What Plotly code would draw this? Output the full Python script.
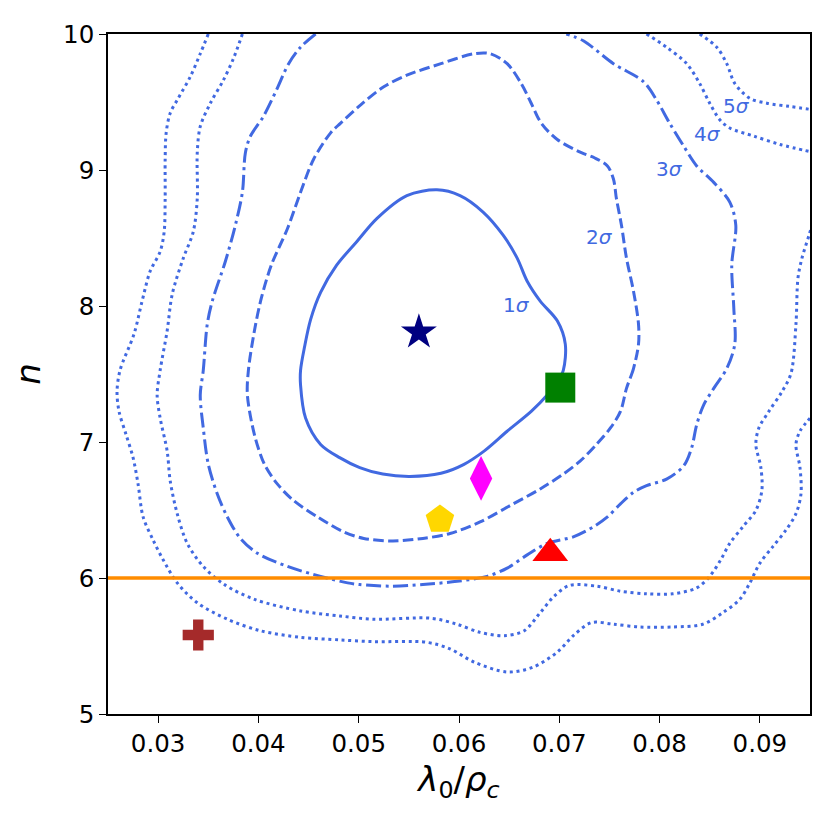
import plotly.graph_objects as go

# ---------------- data ----------------
# contour lines (lambda0/rho_c, n)
c1_x = [0.0442, 0.0446, 0.0452, 0.0462, 0.0478, 0.0498, 0.0518, 0.0548, 0.0578, 0.0601, 0.0624, 0.0644,
        0.0658, 0.0668, 0.0681, 0.0698, 0.0706, 0.0704, 0.0698, 0.0688, 0.0672, 0.0648, 0.0625, 0.0605,
        0.0582, 0.0551, 0.0524, 0.0501, 0.0481, 0.0462, 0.0447, 0.0442, 0.0442]
c1_y = [7.527, 7.700, 7.900, 8.100, 8.300, 8.473, 8.643, 8.812, 8.854, 8.812, 8.691, 8.521,
        8.352, 8.182, 8.036, 7.891, 7.720, 7.527, 7.443, 7.345, 7.225, 7.079, 6.933, 6.836,
        6.770, 6.747, 6.764, 6.812, 6.885, 6.982, 7.176, 7.418, 7.527]

c2_x = [0.0779, 0.0774, 0.0767, 0.0761, 0.0751, 0.0737, 0.0721, 0.0704, 0.0681, 0.0651, 0.0621, 0.0591,
        0.0564, 0.0534, 0.0505, 0.0485, 0.0459, 0.0435, 0.0419, 0.0406, 0.0396, 0.0389, 0.0390, 0.0396,
        0.0403, 0.0413, 0.0429, 0.0442, 0.0455, 0.0472, 0.0482, 0.0502, 0.0525, 0.0548, 0.0582, 0.0615,
        0.0631, 0.0648, 0.0662, 0.0672, 0.0682, 0.0698, 0.0722, 0.0735, 0.0748, 0.0754, 0.0757, 0.0762,
        0.0767, 0.0774, 0.0779, 0.0779]
c2_y = [7.720, 7.540, 7.394, 7.225, 7.103, 6.982, 6.861, 6.764, 6.655, 6.533, 6.412, 6.327,
        6.291, 6.272, 6.291, 6.339, 6.449, 6.570, 6.690, 6.836, 7.055, 7.345, 7.527, 7.818,
        8.061, 8.303, 8.570, 8.836, 9.079, 9.273, 9.345, 9.479, 9.612, 9.697, 9.782, 9.855,
        9.855, 9.782, 9.636, 9.491, 9.345, 9.224, 9.127, 9.090, 9.030, 8.934, 8.788, 8.594,
        8.352, 8.109, 7.867, 7.720]

c3_x = [0.0457, 0.0442, 0.0430, 0.0418, 0.0405, 0.0392, 0.0387, 0.0384, 0.0377, 0.0367, 0.0354, 0.0349,
        0.0345, 0.0342, 0.0345, 0.0350, 0.0359, 0.0369, 0.0382, 0.0399, 0.0429, 0.0462, 0.0489, 0.0501,
        0.0531, 0.0564, 0.0598, 0.0628, 0.0648, 0.0668, 0.0688, 0.0714, 0.0734, 0.0748, 0.0761, 0.0774,
        0.0787, 0.0807, 0.0824, 0.0832, 0.0837, 0.0844, 0.0854, 0.0867, 0.0875, 0.0874, 0.0872, 0.0876,
        0.0870, 0.0854, 0.0837, 0.0824, 0.0810, 0.0797, 0.0784, 0.0754, 0.0724, 0.0707]
c3_y = [10.00, 9.903, 9.780, 9.588, 9.394, 9.249, 9.127, 8.836, 8.594, 8.327, 8.036, 7.867,
        7.527, 7.345, 7.103, 6.836, 6.618, 6.449, 6.291, 6.182, 6.085, 6.012, 5.964, 5.952,
        5.940, 5.952, 5.976, 6.012, 6.073, 6.170, 6.255, 6.303, 6.376, 6.449, 6.545, 6.630,
        6.679, 6.727, 6.824, 6.958, 7.127, 7.273, 7.394, 7.540, 7.720, 7.988, 8.303, 8.594,
        8.764, 8.909, 9.030, 9.176, 9.345, 9.515, 9.649, 9.782, 9.950, 10.00]

c4_x = [0.0384, 0.0375, 0.0365, 0.0352, 0.0342, 0.0339, 0.0339, 0.0335, 0.0325, 0.0314, 0.0309, 0.0302,
        0.0299, 0.0302, 0.0309, 0.0312, 0.0319, 0.0329, 0.0345, 0.0366, 0.0396, 0.0442, 0.0481, 0.0515,
        0.0572, 0.0598, 0.0621, 0.0645, 0.0665, 0.0681, 0.0695, 0.0710, 0.0737, 0.0761, 0.0787, 0.0813,
        0.0837, 0.0850, 0.0861, 0.0870, 0.0883, 0.0896, 0.0902, 0.0901, 0.0896, 0.0899, 0.0909, 0.0922,
        0.0931, 0.0936, 0.0938, 0.0942, 0.0949, 0.0953,
        None,
        0.0787, 0.0807, 0.0827, 0.0840, 0.0850, 0.0860, 0.0870, 0.0894, 0.0920, 0.0953]
c4_y = [10.00, 9.818, 9.660, 9.490, 9.320, 9.127, 8.788, 8.545, 8.350, 8.085, 7.818, 7.527,
        7.345, 7.176, 6.933, 6.715, 6.473, 6.255, 6.085, 5.952, 5.843, 5.758, 5.721, 5.697,
        5.704, 5.660, 5.600, 5.576, 5.612, 5.745, 5.867, 5.945, 5.940, 5.903, 5.884, 5.884,
        5.927, 6.012, 6.134, 6.255, 6.376, 6.497, 6.643, 6.812, 6.982, 7.103, 7.225, 7.370,
        7.503, 7.867, 8.206, 8.352, 8.520, 8.620,
        None,
        10.00, 9.903, 9.782, 9.636, 9.491, 9.370, 9.309, 9.249, 9.188, 9.130]

c5_x = [0.0350, 0.0342, 0.0332, 0.0320, 0.0312, 0.0308, 0.0307, 0.0307, 0.0306, 0.0302, 0.0292, 0.0284,
        0.0276, 0.0262, 0.0259, 0.0261, 0.0268, 0.0275, 0.0280, 0.0285, 0.0295, 0.0305, 0.0319, 0.0339,
        0.0369, 0.0402, 0.0442, 0.0481, 0.0515, 0.0568, 0.0591, 0.0615, 0.0648, 0.0674, 0.0698, 0.0714,
        0.0732, 0.0754, 0.0780, 0.0813, 0.0843, 0.0863, 0.0880, 0.0890, 0.0900, 0.0913, 0.0926, 0.0936,
        0.0941, 0.0940, 0.0936, 0.0940, 0.0953,
        None,
        0.0840, 0.0857, 0.0867, 0.0875, 0.0890, 0.0907, 0.0930, 0.0953]
c5_y = [10.00, 9.855, 9.685, 9.527, 9.418, 9.273, 9.079, 8.788, 8.545, 8.400, 8.255, 8.036,
        7.795, 7.527, 7.370, 7.225, 7.055, 6.885, 6.690, 6.449, 6.279, 6.134, 5.964, 5.818,
        5.697, 5.612, 5.564, 5.545, 5.532, 5.527, 5.479, 5.382, 5.309, 5.345, 5.455, 5.576,
        5.672, 5.660, 5.640, 5.640, 5.660, 5.745, 5.843, 5.964, 6.109, 6.231, 6.352, 6.473,
        6.618, 6.812, 6.982, 7.079, 7.200,
        None,
        10.00, 9.903, 9.782, 9.636, 9.527, 9.491, 9.467, 9.443]

label_text = ["1σ", "2σ", "3σ", "4σ", "5σ"]
label_x = [0.0657, 0.0740, 0.0810, 0.0848, 0.0877]
label_y = [8.01, 8.509, 9.011, 9.268, 9.467]

# model points
point_x = [0.056, 0.0701, 0.0622, 0.0581, 0.0691, 0.0340]
point_y = [7.807, 7.40, 6.732, 6.43, 6.182, 5.581]
point_symbol = ["star", "square", "diamond-tall", "pentagon", "triangle-up", "cross"]
point_color = ["navy", "green", "magenta", "gold", "red", "brown"]
point_size = [27, 30, 32, 30, 31, 26]

n_threshold = 6.0

x_ticks = [0.03, 0.04, 0.05, 0.06, 0.07, 0.08, 0.09]
y_ticks = [5, 6, 7, 8, 9, 10]

# ---------------- figure ----------------
BLUE = "royalblue"
LW = 3.0
styles = {
    1: "solid",
    2: "10.5px,4.3px",
    3: "15px,4.5px,3px,4.5px",
    4: "3px,3.7px",
    5: "3px,3.7px",
}
contours = {1: (c1_x, c1_y), 2: (c2_x, c2_y), 3: (c3_x, c3_y), 4: (c4_x, c4_y), 5: (c5_x, c5_y)}

fig = go.Figure()
for k, (cx, cy) in contours.items():
    fig.add_trace(go.Scatter(
        x=cx, y=cy, mode="lines",
        line=dict(color=BLUE, width=LW, dash=styles[k], shape="spline", smoothing=0.9),
        connectgaps=False, hoverinfo="skip", showlegend=False,
    ))

fig.add_hline(y=n_threshold, line=dict(color="darkorange", width=3.5), layer="above")

for px, py, sym, col, sz in zip(point_x, point_y, point_symbol, point_color, point_size):
    fig.add_trace(go.Scatter(
        x=[px], y=[py], mode="markers",
        marker=dict(symbol=sym, color=col, size=sz, line=dict(width=0)),
        showlegend=False, hoverinfo="skip",
    ))

for t, lx, ly in zip(label_text, label_x, label_y):
    num, sig = t[0], t[1]
    fig.add_annotation(
        x=lx, y=ly, text=f"{num}<i>{sig}</i>", showarrow=False,
        font=dict(family="DejaVu Sans", size=20, color=BLUE),
        xanchor="center", yanchor="middle",
    )

axis_common = dict(
    showgrid=False, zeroline=False, showline=True, mirror=True,
    linecolor="black", linewidth=1.6, ticks="outside", ticklen=7, tickwidth=1.4,
    tickcolor="black", tickfont=dict(family="DejaVu Sans", size=24.5, color="black"),
)

fig.update_layout(
    width=822, height=815,
    margin=dict(l=99.5, r=19.5, t=18.7, b=109),
    paper_bgcolor="white", plot_bgcolor="white",
    xaxis=dict(range=[0.025, 0.095], tickvals=x_ticks, ticktext=[f"{v:.2f}" for v in x_ticks],
               title=dict(text="<i>λ</i><sub>0</sub>/<i>ρ</i><sub><i>c</i></sub>",
                          font=dict(family="DejaVu Sans", size=34, color="black"), standoff=10),
               **axis_common),
    yaxis=dict(range=[5, 10], tickvals=y_ticks, ticktext=[str(v) for v in y_ticks],
               title=dict(text="<i>n</i>", font=dict(family="DejaVu Sans", size=34, color="black"),
                          standoff=18),
               **axis_common),
)

fig.write_html("out.html")
